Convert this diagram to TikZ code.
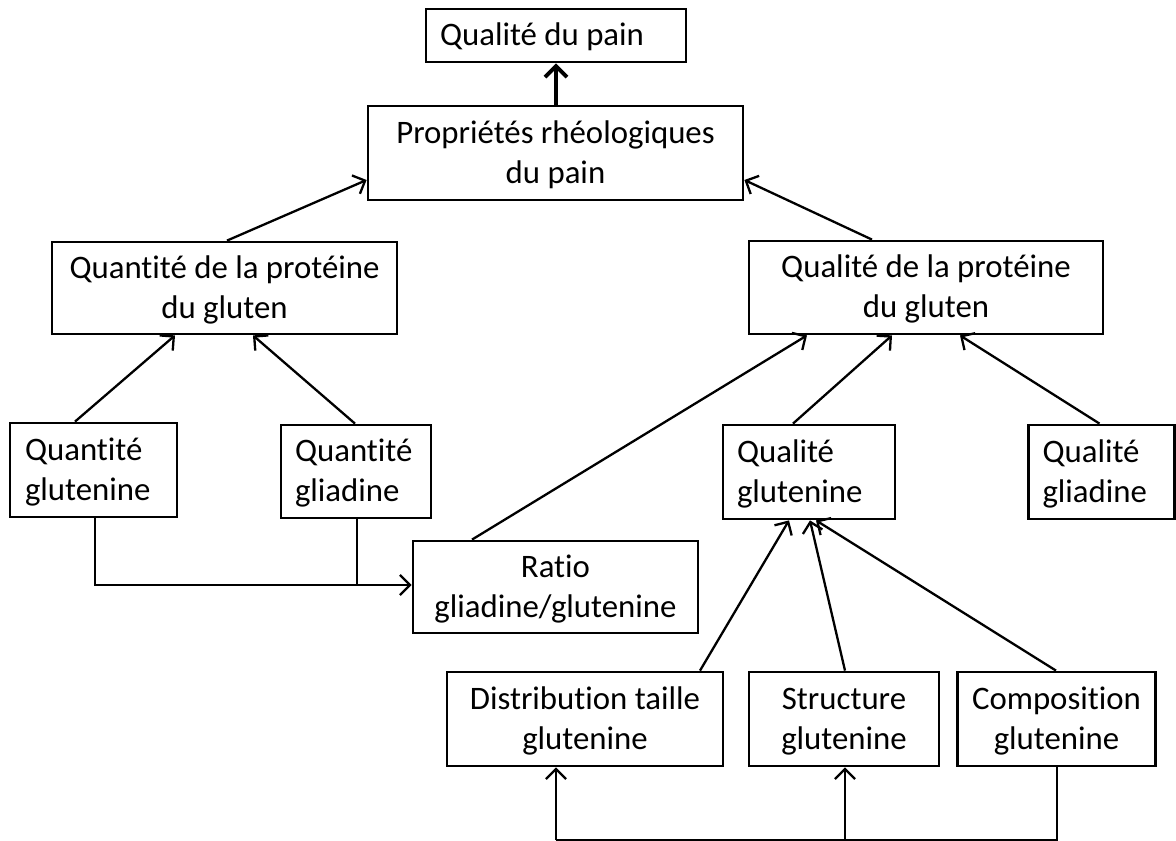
\documentclass[tikz,border=0pt]{standalone}
\usepackage{fontspec}
\setmainfont{Carlito}[Ligatures={NoCommon,NoContextual}]
\usetikzlibrary{arrows.meta}
\newcommand\mystrut{\rule[-9pt]{0pt}{38pt}}
\begin{document}
\begin{tikzpicture}[x=1pt,y=-1pt,
  box/.style={draw, line width=2.8pt, inner sep=0pt, align=center,
    font=\fontsize{32.8}{40}\selectfont},
  lbox/.style={box, align=left},
  conn/.style={line width=2.3pt},
  arr/.style={conn, -{Straight Barb[length=10pt,width=20pt,line width=2.3pt]}},
  thickarr/.style={line width=4pt, -{Straight Barb[length=11pt,width=22pt,line width=3.8pt]}},
]
\useasboundingbox (0,0) rectangle (1176,841);

\node[box, minimum width=260pt, minimum height=53pt] (pain) at (556,35.5) {\makebox[232pt][l]{\mystrut Qualité du pain}};
\node[box, minimum width=375pt, minimum height=94pt] (prop) at (555.5,153) {\mystrut Propriétés rhéologiques\\du pain\mystrut};
\node[box, minimum width=345pt, minimum height=92pt] (qtprot) at (224.5,288) {\mystrut Quantité de la protéine\\du gluten\mystrut};
\node[box, minimum width=354pt, minimum height=93pt] (qlprot) at (926,287.5) {\mystrut Qualité de la protéine\\du gluten\mystrut};
\node[lbox, minimum width=167pt, minimum height=94pt, text width=137pt] (qtglu) at (93.5,470) {\mystrut Quantité\\glutenine\mystrut};
\node[lbox, minimum width=150pt, minimum height=93pt, text width=122pt] (qtgli) at (356,471.5) {\mystrut Quantité\\gliadine\mystrut};
\node[box, minimum width=285pt, minimum height=92pt] (ratio) at (555.5,587) {\mystrut Ratio\\gliadine/glutenine\mystrut};
\node[lbox, minimum width=172pt, minimum height=94pt, text width=144pt] (qlglu) at (809,472) {\mystrut Qualité\\glutenine\mystrut};
\node[lbox, minimum width=146pt, minimum height=94pt, text width=118pt] (qlgli) at (1101.5,472) {\mystrut Qualité\\gliadine\mystrut};
\node[box, minimum width=276pt, minimum height=94pt] (dist) at (585,719) {\mystrut Distribution taille\\glutenine\mystrut};
\node[box, minimum width=190pt, minimum height=94pt] (struct) at (844,719) {\mystrut Structure\\glutenine\mystrut};
\node[box, minimum width=198pt, minimum height=94pt] (comp) at (1056.5,719) {\mystrut Composition\\glutenine\mystrut};

% top levels
\draw[thickarr] ([xshift=0.5pt]prop.north) -- (pain.south);
\draw[arr] ([xshift=2.5pt]qtprot.north) -- ([yshift=-27pt]prop.west);
\draw[arr] ([xshift=-54pt]qlprot.north) -- ([yshift=-27pt]prop.east);

% quantity branch
\draw[arr] ([xshift=-18.5pt]qtglu.north) -- ([xshift=-49.5pt]qtprot.south);
\draw[arr] ([xshift=-1pt]qtgli.north) -- ([xshift=28.5pt]qtprot.south);
\coordinate (j) at (357,585);
\draw[arr] ([xshift=1.5pt]qtglu.south) |- ([yshift=2pt]ratio.west);
\draw[conn] ([xshift=1pt]qtgli.south) -- (j);

% quality branch
\draw[arr] ([xshift=-83.5pt]ratio.north) -- ([xshift=-119pt]qlprot.south);
\draw[arr] ([xshift=-16pt]qlglu.north) -- ([xshift=-34pt]qlprot.south);
\draw[arr] ([xshift=-2pt]qlgli.north) -- ([xshift=34pt]qlprot.south);

\draw[arr] ([xshift=115pt]dist.north) -- ([xshift=-20pt]qlglu.south);
\draw[arr] ([xshift=1pt]struct.north) -- ([xshift=1pt]qlglu.south);
\draw[arr] ([xshift=-0.5pt]comp.north) -- ([xshift=7pt]qlglu.south);

% bottom feedback
\coordinate (b1) at (556,840);
\coordinate (b2) at (845,840);
\draw[conn] ([xshift=0.5pt]comp.south) |- (b1);
\draw[arr] (b1) -- ([xshift=-29pt]dist.south);
\draw[arr] (b2) -- ([xshift=1pt]struct.south);
\end{tikzpicture}
\end{document}
